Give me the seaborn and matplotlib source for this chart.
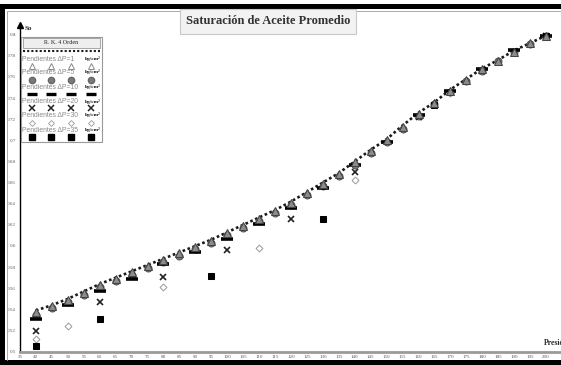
import numpy as np
import pandas as pd
import matplotlib
matplotlib.use("Agg")
import matplotlib.pyplot as plt
import seaborn as sns
from matplotlib.patches import Rectangle
from matplotlib.lines import Line2D

# --- data -------------------------------------------------------------
presion = [40, 45, 50, 55, 60, 65, 70, 75, 80, 85, 90, 95, 100, 105, 110, 115,
           120, 125, 130, 135, 140, 145, 150, 155, 160, 165, 170, 175, 180,
           185, 190, 195, 200]
so_rk4 = [0.539, 0.544, 0.550, 0.557, 0.564, 0.570, 0.576, 0.582, 0.588, 0.594,
          0.600, 0.606, 0.613, 0.620, 0.627, 0.634, 0.642, 0.651, 0.660, 0.669,
          0.680, 0.691, 0.701, 0.714, 0.726, 0.736, 0.748, 0.758, 0.768, 0.776,
          0.785, 0.792, 0.799]
so_dp1 = [0.538, 0.543, 0.549, 0.556, 0.563, 0.569, 0.575, 0.581, 0.587, 0.593,
          0.599, 0.605, 0.612, 0.619, 0.626, 0.633, 0.641, 0.650, 0.659, 0.668,
          0.679, 0.690, 0.700, 0.713, 0.725, 0.735, 0.747, 0.757, 0.767, 0.775,
          0.784, 0.792, 0.799]
so_dp5 = [0.535, 0.541, 0.547, 0.554, 0.561, 0.567, 0.573, 0.579, 0.585, 0.591,
          0.597, 0.603, 0.610, 0.617, 0.624, 0.631, 0.639, 0.648, 0.657, 0.666,
          0.677, 0.688, 0.698, 0.711, 0.723, 0.734, 0.746, 0.756, 0.766, 0.775,
          0.784, 0.791, 0.799]
p_dp10 = [40, 50, 60, 70, 80, 90, 100, 110, 120, 130, 140, 150, 160, 170, 180, 190, 200]
so_dp10 = [0.531, 0.544, 0.557, 0.569, 0.583, 0.594, 0.607, 0.621, 0.636, 0.655,
           0.677, 0.698, 0.724, 0.747, 0.767, 0.785, 0.799]
p_dp20 = [40, 60, 80, 100, 120, 140, 160, 180, 200]
so_dp20 = [0.520, 0.547, 0.571, 0.596, 0.626, 0.670, 0.722, 0.766, 0.799]
p_dp30 = [40, 50, 80, 110, 140, 170, 200]
so_dp30 = [0.512, 0.524, 0.561, 0.598, 0.662, 0.745, 0.799]
p_dp35 = [40, 60, 95, 130, 165, 200]
so_dp35 = [0.505, 0.531, 0.572, 0.626, 0.733, 0.799]

x_ticks = list(range(35, 201, 5))
y_ticks = [0.5, 0.52, 0.54, 0.56, 0.58, 0.6, 0.62, 0.64, 0.66, 0.68, 0.7,
           0.72, 0.74, 0.76, 0.78, 0.8]
legend_labels = ["\u0394P=1", "\u0394P=5", "\u0394P=10", "\u0394P=20", "\u0394P=30", "\u0394P=35"]

# --- figure -------------------------------------------------------------
sns.set_theme(style="white")
plt.rcParams["font.family"] = ["Liberation Serif", "DejaVu Serif"]

W, H = 561, 365
fig = plt.figure(figsize=(W / 100, H / 100), dpi=100)
fig.patch.set_facecolor("white")


def fx(px):
    return px / W


def fy(py):
    return 1 - py / H


ax = fig.add_axes([fx(20), fy(351.7), fx(541), (351.7 - 25) / H])
ax.set_xlim(35, 35 + 541 / 3.188)
ax.set_ylim(0.5, 0.5 + (351.7 - 25) / 1057)
ax.set_facecolor("none")

# main curve
sns.lineplot(x=presion, y=so_rk4, ax=ax, color="#1a1a1a", lw=1.9,
             linestyle=(0, (1, 1)), errorbar=None, zorder=3)

# step-size series
common = dict(ax=ax, linestyle="", errorbar=None)
sns.lineplot(x=presion, y=so_dp5, marker="o", markersize=5, color="#777777",
             markerfacecolor="#7a7a7a", markeredgecolor="#555555", zorder=4, **common)
sns.lineplot(x=presion, y=so_dp1, marker="^", markersize=6, color="#888888",
             markerfacecolor="#8c8c8c", markeredgecolor="#444444", zorder=5, **common)
sns.lineplot(x=p_dp10, y=so_dp10, marker="_", markersize=8, markeredgewidth=2.6,
             color="#000000", markeredgecolor="#000000", zorder=4, **common)
sns.lineplot(x=p_dp20, y=so_dp20, marker="x", markersize=5, markeredgewidth=1.2,
             color="#222222", markeredgecolor="#222222", zorder=4, **common)
sns.lineplot(x=p_dp30, y=so_dp30, marker="D", markersize=3.5, markeredgewidth=0.7,
             color="#999999", markerfacecolor="white", markeredgecolor="#999999",
             zorder=4, **common)
sns.lineplot(x=p_dp35, y=so_dp35, marker="s", markersize=5, color="#000000",
             markerfacecolor="#000000", markeredgecolor="#000000", zorder=4, **common)

# axes styling
for s in ["top", "right"]:
    ax.spines[s].set_visible(False)
ax.spines["left"].set_color("#000000")
ax.spines["left"].set_linewidth(1.0)
ax.spines["bottom"].set_color("#9a9a9a")
ax.spines["bottom"].set_linewidth(2.0)
ax.set_xticks(x_ticks)
ax.set_xticklabels([str(v) for v in x_ticks])
ax.set_yticks(y_ticks)
ax.set_yticklabels([f"{v:g}" for v in y_ticks])
ax.tick_params(axis="both", length=0, labelsize=3.6, labelcolor="#555555")
ax.tick_params(axis="y", pad=3)
ax.tick_params(axis="x", pad=2.5)
ax.set_xlabel("")
ax.set_ylabel("")
ax.grid(False)
ax.plot([0], [1], marker="^", color="black", markersize=4, transform=ax.transAxes,
        clip_on=False)

fig.text(fx(25), fy(29), "So", fontsize=5, fontweight="bold", va="center", ha="left")
fig.text(fx(544), fy(343), "Presión", fontsize=5.5, fontweight="bold",
         va="center", ha="left")

# title box
fig.text(fx(268), fy(21.5), "Saturación de Aceite Promedio", fontsize=9.0,
         fontweight="bold", color="#333333", ha="center", va="center",
         bbox=dict(boxstyle="square,pad=0.5", facecolor="#f2f2f2",
                   edgecolor="#c8c8c8", linewidth=0.8))

# frame
fig.add_artist(Rectangle((0, fy(9.0)), 1, 5.0 / H, transform=fig.transFigure,
                         facecolor="black", edgecolor="none"))
fig.add_artist(Rectangle((0, 0), fx(4.8), fy(4.0), transform=fig.transFigure,
                         facecolor="black", edgecolor="none"))
fig.add_artist(Rectangle((0, 0), 1, 5 / H, transform=fig.transFigure,
                         facecolor="black", edgecolor="none"))
fig.add_artist(Line2D([fx(6.5), fx(6.5)], [fy(360), fy(10.5)], transform=fig.transFigure,
                      color="#aaaaaa", lw=0.7))
fig.add_artist(Line2D([fx(6.5), 1], [fy(10.5), fy(10.5)], transform=fig.transFigure,
                      color="#aaaaaa", lw=0.7))

# legend panel
fig.add_artist(Rectangle((fx(21), fy(141.7)), fx(81), (141.7 - 37) / H,
                         transform=fig.transFigure, facecolor="white",
                         edgecolor="#999999", lw=0.8, zorder=6))
fig.add_artist(Rectangle((fx(23), fy(48)), fx(77), 10 / H, transform=fig.transFigure,
                         facecolor="#eeeeee", edgecolor="#999999", lw=0.6, zorder=7))
fig.text(fx(61.5), fy(43), "R. K. 4 Orden", fontsize=4.3, ha="center", va="center",
         color="#222222", zorder=8)
fig.add_artist(Line2D([fx(23), fx(100)], [fy(50.8), fy(50.8)], transform=fig.transFigure,
                      color="#1a1a1a", lw=1.5, linestyle=(0, (1, 1)), zorder=8))

row_text_y = [59.3, 72.5, 87.3, 101.7, 115.5, 130]
row_mark_y = [65.7, 80, 94.3, 108.3, 122.7, 137.3]
mark_x = [31.7, 50.7, 70.7, 90.7]
styles = [
    dict(marker="^", markersize=4.5, markerfacecolor="white", markeredgecolor="#888888", mew=0.7),
    dict(marker="o", markersize=4.5, markerfacecolor="#7a7a7a", markeredgecolor="#666666"),
    dict(marker="_", markersize=7, markeredgewidth=2.4, color="black"),
    dict(marker="x", markersize=4, markeredgewidth=1.1, color="#222222"),
    dict(marker="D", markersize=3, markeredgewidth=0.6, markerfacecolor="white",
         markeredgecolor="#999999"),
    dict(marker="s", markersize=4.5, markerfacecolor="black", markeredgecolor="black"),
]
for lab, ty, my, st in zip(legend_labels, row_text_y, row_mark_y, styles):
    fig.text(fx(22.5), fy(ty), "Pendientes " + lab, fontsize=4.9, color="#8a8a8a",
             family=["Liberation Sans Narrow", "Liberation Sans", "DejaVu Sans"],
             ha="left", va="center", zorder=8)
    fig.text(fx(100.5), fy(ty - 0.5), "kg/cm²", fontsize=3.9, fontweight="bold",
             color="#111111", ha="right", va="center", zorder=8)
    fig.add_artist(Line2D([fx(x) for x in mark_x], [fy(my)] * 4, linestyle="",
                          transform=fig.transFigure, zorder=8, **st))

fig.savefig("out.png", dpi=100)
